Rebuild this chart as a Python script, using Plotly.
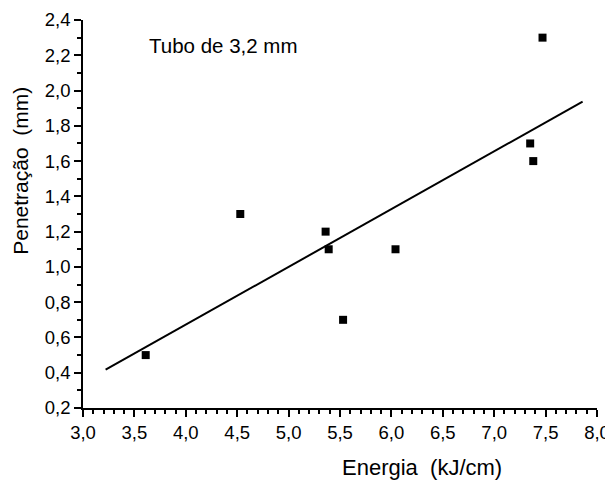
import plotly.graph_objects as go

energia = [3.61, 4.53, 5.36, 5.39, 5.53, 6.04, 7.35, 7.38, 7.47]
penetracao = [0.5, 1.3, 1.2, 1.1, 0.7, 1.1, 1.7, 1.6, 2.3]
fit_x = [3.22, 7.86]
fit_y = [0.417, 1.937]

x_ticks = [3.0, 3.5, 4.0, 4.5, 5.0, 5.5, 6.0, 6.5, 7.0, 7.5, 8.0]
y_ticks = [0.2, 0.4, 0.6, 0.8, 1.0, 1.2, 1.4, 1.6, 1.8, 2.0, 2.2, 2.4]

font = "Liberation Sans, Arial, sans-serif"

fig = go.Figure()
fig.add_trace(go.Scatter(x=fit_x, y=fit_y, mode="lines",
                         line=dict(color="black", width=2), showlegend=False))
fig.add_trace(go.Scatter(x=energia, y=penetracao, mode="markers",
                         marker=dict(symbol="square", size=8, color="black"),
                         showlegend=False))

axis_common = dict(showline=True, linecolor="black", linewidth=1.5, showgrid=False,
                   zeroline=False, ticks="outside", ticklen=7, tickwidth=1.5,
                   automargin=False,
                   tickcolor="black", tickfont=dict(family=font, size=18.5, color="black"))

fig.update_xaxes(range=[3.0, 8.0], tickvals=x_ticks,
                 ticktext=[f"{v:.1f}".replace(".", ",") for v in x_ticks],
                 minor=dict(dtick=0.1, ticks="outside", ticklen=4, tickwidth=1.5, tickcolor="black"),
                 **axis_common)
fig.update_yaxes(range=[0.2, 2.4], tickvals=y_ticks,
                 ticktext=[f"{v:.1f}".replace(".", ",") for v in y_ticks],
                 minor=dict(dtick=0.1, ticks="outside", ticklen=4, tickwidth=1.5, tickcolor="black"),
                 **axis_common)

# Page layout: browser body has an 8px margin, figure is offset by it.
OFF = 8
W, H = 613, 483 - OFF
L, T = 82.7 - OFF, 20 - OFF
R = W - (597.3 - OFF)
B = H - (408.3 - OFF)
pw, ph = W - L - R, H - T - B


def px_to_paper(px, py):
    return (px - OFF - L) / pw, (H - (py - OFF) - B) / ph


fig.add_annotation(x=3.627, y=2.258, xref="x", yref="y", text="Tubo de 3,2 mm",
                   showarrow=False, xanchor="left", yanchor="middle",
                   font=dict(family=font, size=20.5, color="black"))
ax, ay = px_to_paper(422, 468)
fig.add_annotation(x=ax, y=ay, xref="paper", yref="paper", text="Energia&nbsp;&nbsp;(kJ/cm)",
                   showarrow=False, xanchor="center", yanchor="middle",
                   font=dict(family=font, size=22, color="black"))
ax, ay = px_to_paper(OFF, 171)
fig.add_annotation(x=ax, y=ay, xref="paper", yref="paper", text="Penetração&nbsp;&nbsp;(mm)",
                   showarrow=False, textangle=-90, xanchor="left", yanchor="middle",
                   borderpad=0,
                   font=dict(family=font, size=21, color="black"))

fig.update_layout(width=W, height=H, margin=dict(l=L, r=R, t=T, b=B, autoexpand=False),
                  plot_bgcolor="white", paper_bgcolor="white",
                  font=dict(family=font, color="black"))

fig.write_html("out.html")
